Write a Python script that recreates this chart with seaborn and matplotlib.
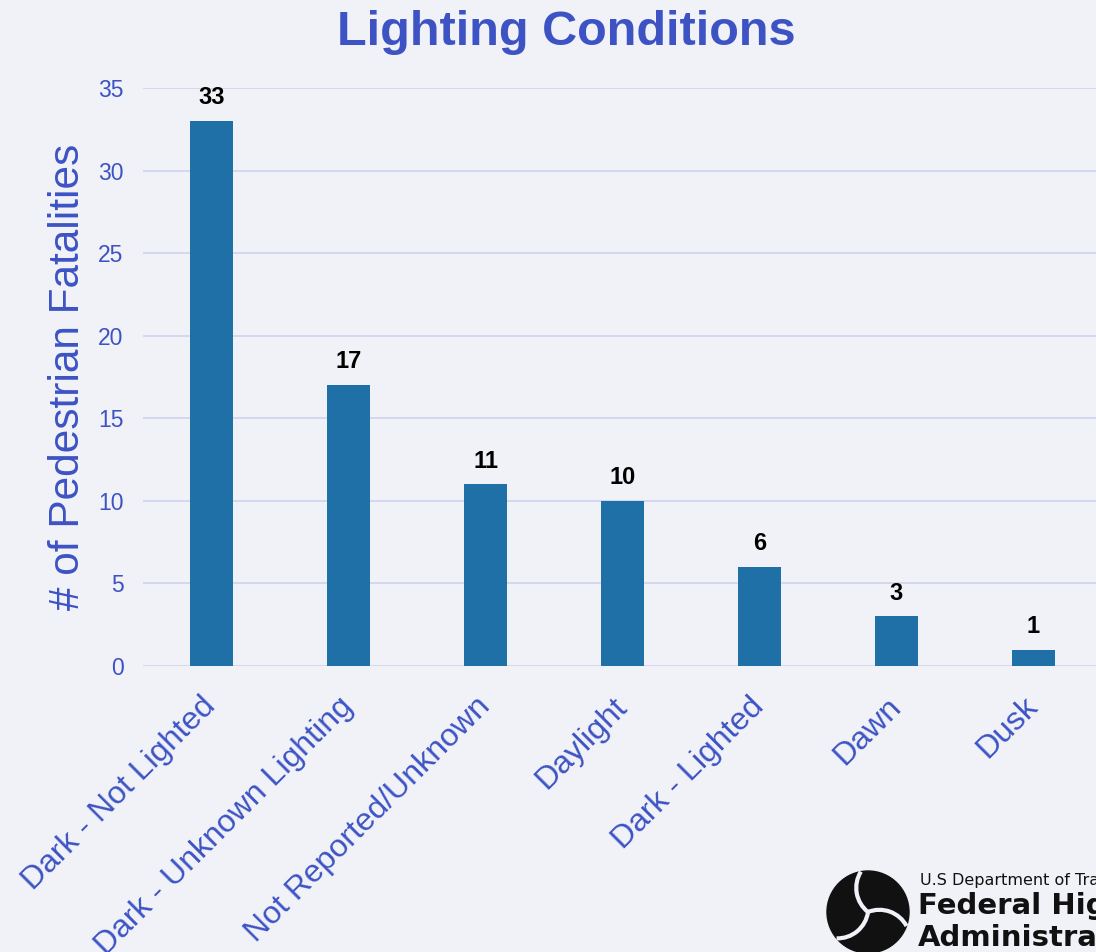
import matplotlib
matplotlib.use("Agg")
import math
import matplotlib.pyplot as plt
import seaborn as sns
import pandas as pd
from matplotlib.patches import Circle, Arc

categories = ["Dark - Not Lighted", "Dark - Unknown Lighting", "Not Reported/Unknown",
              "Daylight", "Dark - Lighted", "Dawn", "Dusk"]
fatalities = [33, 17, 11, 10, 6, 3, 1]
y_ticks = [0, 5, 10, 15, 20, 25, 30, 35]

title = "Lighting Conditions"
y_label = "# of Pedestrian Fatalities"

BG = "#f0f2f7"
BAR = "#2070a8"
BLUE = "#3d53c4"
GRID = "#d3d8ef"

sns.set_theme(style="whitegrid")
plt.rcParams["font.family"] = ["Liberation Sans", "DejaVu Sans"]

fig = plt.figure(figsize=(10.96, 9.52), dpi=100, facecolor=BG)
ax = fig.add_axes([0.1305, 0.3004, 0.875, 0.6072])
ax.set_facecolor(BG)

df = pd.DataFrame({"cat": categories, "val": fatalities})
sns.barplot(data=df, x="cat", y="val", order=categories, color=BAR,
            saturation=1, width=0.31, linewidth=0, edgecolor=BAR, ax=ax)

ax.set_ylim(0, 35)
ax.set_xlim(-0.5, len(categories) - 0.5)
ax.set_yticks(y_ticks)
ax.set_yticklabels([str(t) for t in y_ticks])
ax.yaxis.grid(True, color=GRID, linewidth=1.4)
ax.xaxis.grid(False)
ax.set_axisbelow(True)
for s in ax.spines.values():
    s.set_visible(False)
ax.axhline(0, color=GRID, linewidth=2.0, zorder=0.5)

ax.tick_params(axis="y", length=0, pad=14, labelsize=16.5, labelcolor=BLUE)
ax.tick_params(axis="x", length=0, pad=26, labelsize=23, labelcolor=BLUE)
for lbl in ax.get_xticklabels():
    lbl.set_rotation(45)
    lbl.set_ha("right")
    lbl.set_va("center")
    lbl.set_rotation_mode("anchor")

ax.set_xlabel("")
ax.set_ylabel(y_label, fontsize=30.5, color=BLUE)
ax.yaxis.set_label_coords(-0.057, 0.5)

for i, v in enumerate(fatalities):
    ax.annotate(str(v), (i, v), xytext=(0, 8.5), textcoords="offset points",
                ha="center", va="bottom", fontsize=17, fontweight="bold", color="black")

fig.text(0.517, 1 - 45 / 952, title, ha="center", va="baseline",
         fontsize=35, fontweight="bold", color=BLUE)

# FHWA logo (decoration)
lax = fig.add_axes([0, 0, 1, 1], facecolor="none")
lax.set_xlim(0, 1096)
lax.set_ylim(952, 0)
lax.set_aspect("equal")
lax.axis("off")
cx, cy, r = 868, 912, 41
lax.add_patch(Circle((cx, cy), r, color="#111111", zorder=2))
R = 0.75 * r
off = math.sqrt(R ** 2 - (r / 2) ** 2)
half = math.degrees(math.asin(r / (2 * R)))
for k in range(3):
    th = math.radians(100 + 120 * k)
    # midpoint of chord from centre to edge
    mx, my = cx + (r / 2) * math.cos(th), cy - (r / 2) * math.sin(th)
    # perpendicular direction (data coords, y down)
    px, py = math.cos(th + math.pi / 2), -math.sin(th + math.pi / 2)
    ox, oy = mx - off * px, my - off * py
    base = math.degrees(math.atan2(my - oy, mx - ox))
    lax.add_patch(Arc((ox, oy), 2 * R, 2 * R, angle=0,
                      theta1=base - half, theta2=base + half,
                      color=BG, lw=3.0, zorder=3))
fig.text(920 / 1096, 1 - 885 / 952, "U.S Department of Transportation",
         fontsize=11.5, family="DejaVu Sans", color="#111111", va="baseline", ha="left")
fig.text(918 / 1096, 1 - 914 / 952, "Federal Highway",
         fontsize=21, family="DejaVu Sans", fontweight="bold", color="#111111",
         va="baseline", ha="left")
fig.text(918 / 1096, 1 - 946 / 952, "Administration",
         fontsize=21, family="DejaVu Sans", fontweight="bold", color="#111111",
         va="baseline", ha="left")

fig.savefig("out.png", dpi=100, facecolor=BG)
